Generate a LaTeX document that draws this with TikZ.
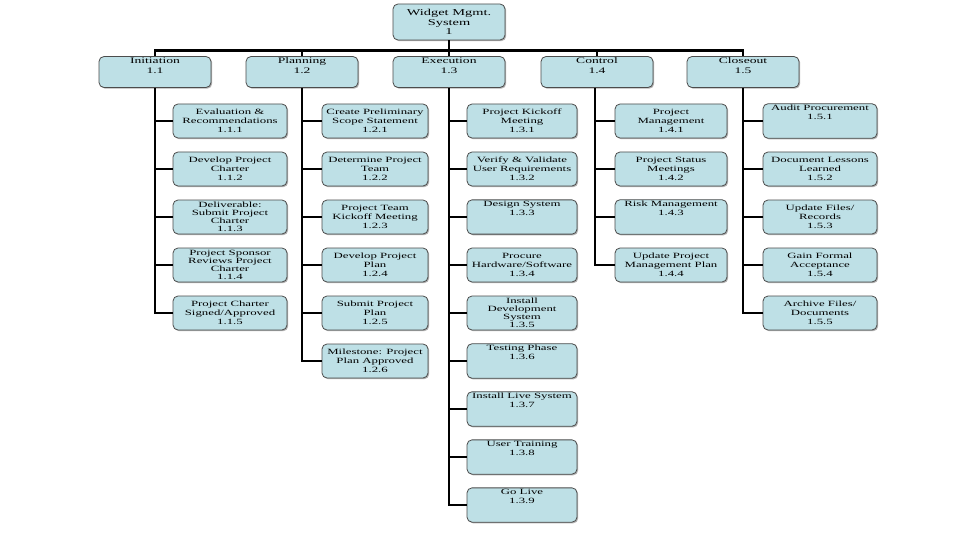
\documentclass[tikz,border=0pt]{standalone}
\usepackage{fontspec}
\setmainfont{Liberation Serif}[FakeStretch=1.6]
\usetikzlibrary{shadows}
\definecolor{boxfill}{RGB}{190,224,230}
\begin{document}
\begin{tikzpicture}[x=1pt,y=-1pt,
  box/.style={draw=black!70, line width=0.8pt, fill=boxfill, rounded corners=5pt,
    minimum width=110pt, minimum height=34pt, inner sep=1pt, align=center,
    font=\fontsize{8}{9}\selectfont,
    drop shadow={shadow xshift=1.2pt, shadow yshift=-1.2pt, fill=black!50, opacity=0.6}},
  four/.style={font=\fontsize{8}{8.1}\selectfont},
  topbox/.style={box, minimum width=112pt, minimum height=31pt, font=\fontsize{8.5}{10}\selectfont},
  rootbox/.style={box, minimum width=112pt, minimum height=36pt, font=\fontsize{9}{9.5}\selectfont},
  conn/.style={line width=2.6pt, black}]
\useasboundingbox (0,0) rectangle (960,540);
\fill[white] (0,0) rectangle (960,540);
% root
\node[rootbox] (root) at (449,22) {Widget Mgmt.\\System\\1};
% level 1
\node[topbox] (l1) at (155,72) {Initiation\\1.1\\[3pt]};
\node[topbox] (l2) at (302,72) {Planning\\1.2\\[3pt]};
\node[topbox] (l3) at (449,72) {Execution\\1.3\\[3pt]};
\node[topbox] (l4) at (597,72) {Control\\1.4\\[3pt]};
\node[topbox] (l5) at (743,72) {Closeout\\1.5\\[3pt]};
% column 1
\node[box, minimum width=114pt] (c11) at (230,121) {Evaluation \&\\Recommendations\\1.1.1};
\node[box, minimum width=114pt] (c12) at (230,169) {Develop Project\\Charter\\1.1.2};
\node[box, minimum width=114pt, four] (c13) at (230,217) {Deliverable:\\Submit Project\\Charter\\1.1.3};
\node[box, minimum width=114pt, four] (c14) at (230,265) {Project Sponsor\\Reviews Project\\Charter\\1.1.4};
\node[box, minimum width=114pt] (c15) at (230,313) {Project Charter\\Signed/Approved\\1.1.5};
% column 2
\node[box, minimum width=106pt] (c21) at (375,121) {Create Preliminary\\Scope Statement\\1.2.1};
\node[box, minimum width=106pt] (c22) at (375,169) {Determine Project\\Team\\1.2.2};
\node[box, minimum width=106pt] (c23) at (375,217) {Project Team\\Kickoff Meeting\\1.2.3};
\node[box, minimum width=106pt] (c24) at (375,265) {Develop Project\\Plan\\1.2.4};
\node[box, minimum width=106pt] (c25) at (375,313) {Submit Project\\Plan\\1.2.5};
\node[box, minimum width=106pt] (c26) at (375,361) {Milestone: Project\\Plan Approved\\1.2.6};
% column 3
\node[box] (c31) at (522,121) {Project Kickoff\\Meeting\\1.3.1};
\node[box] (c32) at (522,169) {Verify \& Validate\\User Requirements\\1.3.2};
\node[box] (c33) at (522,217) {Design System\\1.3.3\\[9pt]};
\node[box] (c34) at (522,265) {Procure\\Hardware/Software\\1.3.4};
\node[box, four] (c35) at (522,313) {Install\\Development\\System\\1.3.5};
\node[box] (c36) at (522,361) {Testing Phase\\1.3.6\\[9pt]};
\node[box] (c37) at (522,409) {Install Live System\\1.3.7\\[9pt]};
\node[box] (c38) at (522,457) {User Training\\1.3.8\\[9pt]};
\node[box] (c39) at (522,505) {Go Live\\1.3.9\\[9pt]};
% column 4
\node[box, minimum width=112pt] (c41) at (671,121) {Project\\Management\\1.4.1};
\node[box, minimum width=112pt] (c42) at (671,169) {Project Status\\Meetings\\1.4.2};
\node[box, minimum width=112pt] (c43) at (671,217) {Risk Management\\1.4.3\\[9pt]};
\node[box, minimum width=112pt] (c44) at (671,265) {Update Project\\Management Plan\\1.4.4};
% column 5
\node[box, minimum width=114pt] (c51) at (820,121) {Audit Procurement\\1.5.1\\[9pt]};
\node[box, minimum width=114pt] (c52) at (820,169) {Document Lessons\\Learned\\1.5.2};
\node[box, minimum width=114pt] (c53) at (820,217) {Update Files/\\Records\\1.5.3};
\node[box, minimum width=114pt] (c54) at (820,265) {Gain Formal\\Acceptance\\1.5.4};
\node[box, minimum width=114pt] (c55) at (820,313) {Archive Files/\\Documents\\1.5.5};
% connectors: root to level 1
\draw[conn] (root.south) -- ++(0,10) coordinate (bar);
\draw[conn] (l1.north) |- (bar) -| (l5.north);
\draw[conn] (l2.north) -- (l2.north |- bar);
\draw[conn] (l3.north) -- (l3.north |- bar);
\draw[conn] (l4.north) -- (l4.north |- bar);
% level 1 to children
\draw[conn] (l1.south) |- (c15.west);
\foreach \j in {1,...,4} \draw[conn] (l1.south |- c1\j.west) -- (c1\j.west);
\draw[conn] (l2.south) |- (c26.west);
\foreach \j in {1,...,5} \draw[conn] (l2.south |- c2\j.west) -- (c2\j.west);
\draw[conn] (l3.south) |- (c39.west);
\foreach \j in {1,...,8} \draw[conn] (l3.south |- c3\j.west) -- (c3\j.west);
\draw[conn] ([xshift=-2pt]l4.south) |- (c44.west);
\foreach \j in {1,...,3} \draw[conn] ([xshift=-2pt]l4.south |- c4\j.west) -- (c4\j.west);
\draw[conn] (l5.south) |- (c55.west);
\foreach \j in {1,...,4} \draw[conn] (l5.south |- c5\j.west) -- (c5\j.west);
\end{tikzpicture}
\end{document}
